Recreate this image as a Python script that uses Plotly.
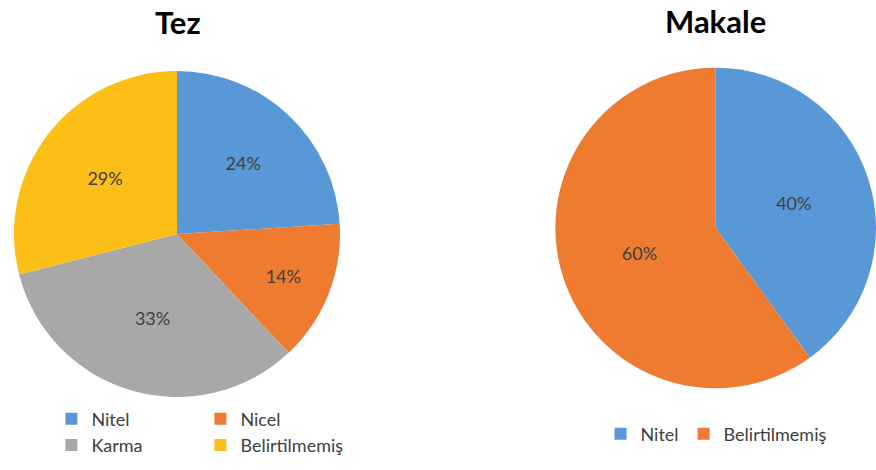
import plotly.graph_objects as go

# Data
tez_labels = ["Nitel", "Nicel", "Karma", "Belirtilmemiş"]
tez_values = [24, 14, 33, 29]
tez_colors = ["#5898d6", "#ee7b30", "#a8a8a8", "#fbbf16"]

makale_labels = ["Nitel", "Belirtilmemiş"]
makale_values = [40, 60]
makale_colors = ["#5898d6", "#ee7b30"]

titles = ["Tez", "Makale"]

W, H = 876, 470
FONT = "Lato"

fig = go.Figure()

fig.add_trace(go.Pie(
    labels=tez_labels, values=tez_values,
    marker=dict(colors=tez_colors, line=dict(width=0)),
    sort=False, direction="clockwise", rotation=0,
    textinfo="percent", textposition="inside",
    insidetextorientation="horizontal",
    textfont=dict(family=FONT, size=18, color="#404040"),
    domain=dict(x=[14 / W, 340 / W], y=[73 / H, 399 / H]),
    legend="legend", legendgroup="tez",
))

fig.add_trace(go.Pie(
    labels=makale_labels, values=makale_values,
    marker=dict(colors=makale_colors, line=dict(width=0)),
    sort=False, direction="clockwise", rotation=0,
    textinfo="percent", textposition="inside",
    insidetextorientation="horizontal",
    textfont=dict(family=FONT, size=18, color="#404040"),
    domain=dict(x=[0.634, 1.0], y=[0.1738, 0.856]),
    legend="legend2", legendgroup="makale",
))

fig.update_layout(
    width=W, height=H,
    margin=dict(l=0, r=0, t=0, b=0, autoexpand=False),
    paper_bgcolor="white", plot_bgcolor="white",
    font=dict(family=FONT, color="#404040"),
    legend=dict(
        orientation="h", traceorder="normal",
        x=-0.0001, xanchor="left", y=0.081, yanchor="middle",
        entrywidth=104,
        title=dict(text="\u00a0" * 9, side="left", font=dict(family=FONT, size=18)),
        font=dict(family=FONT, size=18, color="#404040"),
        bgcolor="rgba(0,0,0,0)",
    ),
    legend2=dict(
        orientation="h", traceorder="normal",
        x=716 / W, xanchor="center", y=0.0766, yanchor="middle",
        font=dict(family=FONT, size=18, color="#404040"),
        bgcolor="rgba(0,0,0,0)",
    ),
    annotations=[
        dict(text="<b>%s</b>" % titles[0], x=178 / W, y=1 - 22 / H, xref="paper", yref="paper",
             xanchor="center", yanchor="middle", showarrow=False,
             font=dict(family=FONT, size=31, color="black")),
        dict(text="<b>%s</b>" % titles[1], x=715 / W, y=1 - 21 / H, xref="paper", yref="paper",
             xanchor="center", yanchor="middle", showarrow=False,
             font=dict(family=FONT, size=31, color="black")),
    ],
)

fig.write_html("out.html")
